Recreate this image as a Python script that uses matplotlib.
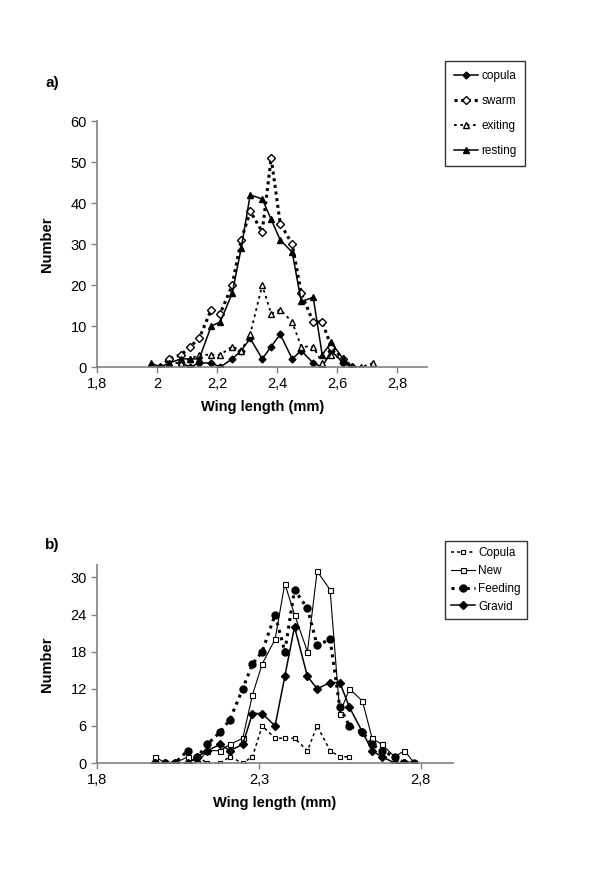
import numpy as np
import matplotlib.pyplot as plt

plt.rcParams['font.family'] = ['Liberation Sans', 'DejaVu Sans']
plt.rcParams['font.size'] = 10

nan = np.nan

# wing length classes (mm)
wing = [1.98, 2.01, 2.04, 2.08, 2.11, 2.14, 2.18, 2.21, 2.25, 2.28, 2.31, 2.35, 2.38,
        2.41, 2.45, 2.48, 2.52, 2.55, 2.58, 2.62, 2.65, 2.68, 2.72, 2.75, 2.78, 2.82]

# panel a
copula_a = [nan, nan, nan, 1, 0, 1, 1, 0, 2, 4, 7, 2, 5, 8, 2, 4, 1, 0, 4, 1, 0, nan, nan]
swarm_a = [nan, 0, 2, 3, 5, 7, 14, 13, 20, 31, 38, 33, 51, 35, 30, 18, 11, 11, 5, 2, 0, nan, nan]
exiting_a = [nan, nan, 1, 1, 2, 3, 3, 3, 5, 4, 8, 20, 13, 14, 11, 5, 5, 1, 3, 2, 0, 0, 1]
resting_a = [1, 0, 1, 2, 2, 2, 10, 11, 18, 29, 42, 41, 36, 31, 28, 16, 17, 3, 6, 2, 0, nan, nan]

# panel b
copula_b = [nan, nan, nan, nan, 1, 0, 0, 1, 0, 1, 6, 4, 4, 4, 2, 6, 2, 1, 1, nan, nan, nan, nan, nan, nan, nan]
new_b = [1, 0, 0, 1, 0, 2, 2, 3, 4, 11, 16, 20, 29, 24, 18, 31, 28, 8, 12, 10, 4, 3, 1, 2, 0, nan]
feeding_b = [0, 0, 0, 2, 1, 3, 5, 7, 12, 16, 18, 24, 18, 28, 25, 19, 20, 9, 6, 5, 3, 2, 1, 0, 0, nan]
gravid_b = [0, 0, 0, 0, 1, 2, 3, 2, 3, 8, 8, 6, 14, 22, 14, 12, 13, 13, 9, 5, 2, 1, 0, 0, nan, nan]

xticks_a = [1.8, 2.0, 2.2, 2.4, 2.6, 2.8]
xlabels_a = ['1,8', '2', '2,2', '2,4', '2,6', '2,8']
xticks_b = [1.8, 2.3, 2.8]
xlabels_b = ['1,8', '2,3', '2,8']


def style_axes(ax):
    for s in ['top', 'right']:
        ax.spines[s].set_visible(False)
    for s in ['left', 'bottom']:
        ax.spines[s].set_color('#808080')
        ax.spines[s].set_linewidth(1.2)
    ax.tick_params(direction='out', length=4, width=1, color='#808080', labelsize=10.5)
    ax.set_xlabel('Wing length (mm)', fontweight='bold', fontsize=10.5, labelpad=6)
    ax.set_ylabel('Number', fontweight='bold', fontsize=10.5, labelpad=12)


fig = plt.figure(figsize=(6, 8.74), dpi=100)

# ---- panel a ----
ax1 = fig.add_axes([0.162, 0.580, 0.55, 0.2815])
n = len(resting_a)
xa = np.array(wing[:n])
ax1.plot(xa, copula_a, color='black', lw=1.1, ls='-', marker='D', ms=3.5, mfc='black', label='copula')
ax1.plot(xa, swarm_a, color='black', lw=2.2, ls=(0, (1, 1.2)), marker='D', ms=4, mfc='white', mew=1, label='swarm')
ax1.plot(xa, exiting_a, color='black', lw=1.3, ls=(0, (1.5, 2)), marker='^', ms=4.5, mfc='white', mew=1, label='exiting')
ax1.plot(xa, resting_a, color='black', lw=1.1, ls='-', marker='^', ms=4.5, mfc='black', label='resting')
ax1.set_xlim(1.8, 2.9)
ax1.set_ylim(0, 60)
ax1.set_yticks([0, 10, 20, 30, 40, 50, 60])
ax1.set_xticks(xticks_a)
ax1.set_xticklabels(xlabels_a)
style_axes(ax1)
fig.legend(*ax1.get_legend_handles_labels(), loc='upper left', bbox_to_anchor=(0.742, 0.930),
           frameon=True, fancybox=False, edgecolor='black', fontsize=8.5, handlelength=2.0,
           labelspacing=1.1, borderpad=0.75, handletextpad=0.3, borderaxespad=0)
fig.text(0.075, 0.900, 'a)', fontweight='bold', fontsize=11)

# ---- panel b ----
ax2 = fig.add_axes([0.162, 0.127, 0.593, 0.2265])
xb = np.array(wing)
ax2.plot(xb, copula_b, color='black', lw=1.1, ls=(0, (2, 2)), marker='s', ms=3.2, mfc='white', mew=0.8, label='Copula')
ax2.plot(xb, new_b, color='black', lw=0.8, ls='-', marker='s', ms=3.6, mfc='white', mew=0.8, label='New')
ax2.plot(xb, feeding_b, color='black', lw=2.2, ls=(0, (1, 1.5)), marker='o', ms=5, mfc='black', label='Feeding')
ax2.plot(xb, gravid_b, color='black', lw=1.1, ls='-', marker='D', ms=4, mfc='black', label='Gravid')
ax2.set_xlim(1.8, 2.9)
ax2.set_ylim(0, 32)
ax2.set_yticks([0, 6, 12, 18, 24, 30])
ax2.set_xticks(xticks_b)
ax2.set_xticklabels(xlabels_b)
style_axes(ax2)
fig.legend(*ax2.get_legend_handles_labels(), loc='upper left', bbox_to_anchor=(0.742, 0.381),
           frameon=True, fancybox=False, edgecolor='black', fontsize=8.5, handlelength=2.0,
           labelspacing=0.5, borderpad=0.5, handletextpad=0.3, borderaxespad=0)
fig.text(0.075, 0.372, 'b)', fontweight='bold', fontsize=11)

fig.savefig('out.png', dpi=100, facecolor='white')
